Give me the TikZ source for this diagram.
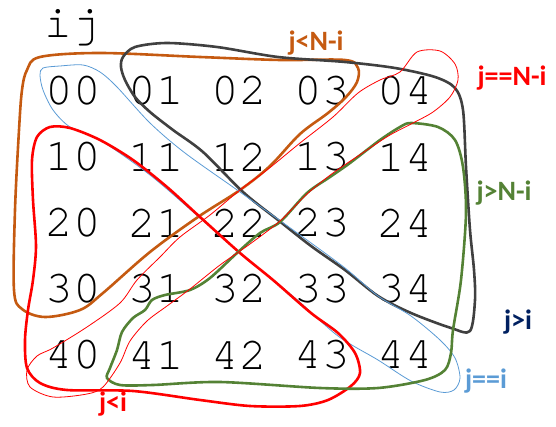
\documentclass[tikz,border=0pt]{standalone}
\usepackage{fontspec}
\setmainfont{Carlito}
\newfontfamily\gridfont{texgyrecursor-regular.otf}
\usepackage{tikz}

\definecolor{orangeline}{HTML}{C55A11}
\definecolor{grayline}{HTML}{404040}
\definecolor{blueline}{HTML}{5B9BD5}
\definecolor{greenline}{HTML}{548235}
\definecolor{navytext}{HTML}{002060}
\definecolor{redline}{HTML}{FF0000}

\tikzset{
  cell/.style={font=\gridfont\fontsize{46}{46}\selectfont, inner sep=0pt},
  tag/.style={font=\bfseries\fontsize{28}{28}\selectfont, inner sep=0pt},
  thickloop/.style={line width=2.6pt, line join=round},
  thinloop/.style={line width=0.8pt},
}

\begin{document}
\begin{tikzpicture}[x=1pt,y=-1pt]
    \useasboundingbox (0,0) rectangle (556,427);

    % draw index header
    \node[cell] (ij) at (72,28) {ij};

    % draw cells
    \foreach \i in {0,...,4}
      \foreach \j in {0,...,4}
        \node[cell] (c\i\j) at (73+83*\j, 91+66*\i) {\i\j};

    % draw j<N-i
    \draw[thickloop, orangeline] plot[smooth cycle, tension=0.55] coordinates {
      (40,57) (100,53) (200,57) (280,60) (345,60) (358,68) (357,82) (346,97)
      (328,113) (300,134) (270,166) (240,190) (198,217) (150,252) (103,293)
      (80,310) (45,317) (22,309) (14,290) (15,210) (19,130) (22,90) (27,70)};

    % draw j>i
    \draw[thickloop, grayline] plot[smooth cycle, tension=0.5] coordinates {
      (123,57) (135,47) (167,43) (217,47) (278,57) (345,62) (395,68) (435,77)
      (455,88) (463,110) (466,167) (470,230) (474,270) (475,300) (470,331)
      (451,328) (411,313) (378,296) (345,270) (311,246) (278,220) (243,192)
      (203,152) (173,130) (150,112) (135,97) (125,80) (121,67)};

    % draw j==i
    \draw[thinloop, blueline] plot[smooth cycle, tension=0.5] coordinates {
      (43,68) (60,66) (83,65) (100,72) (117,87) (150,123) (185,153) (240,192)
      (300,235) (345,268) (378,296) (411,316) (440,340) (455,358) (460,378)
      (454,390) (440,392) (411,381) (378,360) (338,336) (295,298) (240,253)
      (200,218) (150,175) (100,140) (70,127) (53,110) (43,90) (40,75)};

    % draw j<i
    \draw[thickloop, redline] plot[smooth cycle, tension=0.5] coordinates {
      (50,127) (70,128) (100,140) (133,160) (167,187) (200,217) (240,253)
      (273,280) (311,313) (338,333) (355,353) (360,373) (351,386) (328,400)
      (300,406) (250,406) (200,400) (133,391) (67,390) (40,383) (27,368)
      (25,340) (28,310) (33,280) (36,246) (33,200) (32,160) (37,137)};

    % draw j>N-i
    \draw[thickloop, greenline] plot[smooth cycle, tension=0.5] coordinates {
      (411,123) (438,127) (455,140) (463,167) (466,213) (461,280) (453,330)
      (451,353) (445,370) (425,380) (378,388) (320,388) (220,382) (153,385)
      (120,385) (107,378) (110,368) (117,350) (122,332) (133,318) (145,310)
      (152,300) (165,295) (190,290) (210,278) (237,253) (260,233) (280,222)
      (307,193) (330,177) (350,163) (380,140) (400,127)};

    % draw j==N-i
    \draw[thinloop, redline] plot[smooth cycle, tension=0.5] coordinates {
      (400,72) (417,52) (440,51) (455,64) (458,80) (450,97) (433,112) (413,123)
      (390,135) (367,150) (333,173) (307,194) (280,221) (250,244) (220,265)
      (190,289) (167,306) (147,321) (130,341) (120,363) (103,387) (87,394)
      (53,397) (30,387) (27,370) (37,356) (53,348) (87,327) (120,303)
      (137,280) (160,257) (180,237) (210,215) (240,190) (267,170) (300,143)
      (333,117) (358,93) (380,80)};

    % draw tags
    \node[tag, orangeline] (ltN) at (316,43) {j<N-i};
    \node[tag, redline] (eqN) at (512,78) {j==N-i};
    \node[tag, greenline] (gtN) at (504,193) {j>N-i};
    \node[tag, navytext] (gt) at (518,322) {j>i};
    \node[tag, blueline] (eq) at (486,381) {j==i};
    \node[tag, redline] (lt) at (113,404) {j<i};
\end{tikzpicture}
\end{document}
